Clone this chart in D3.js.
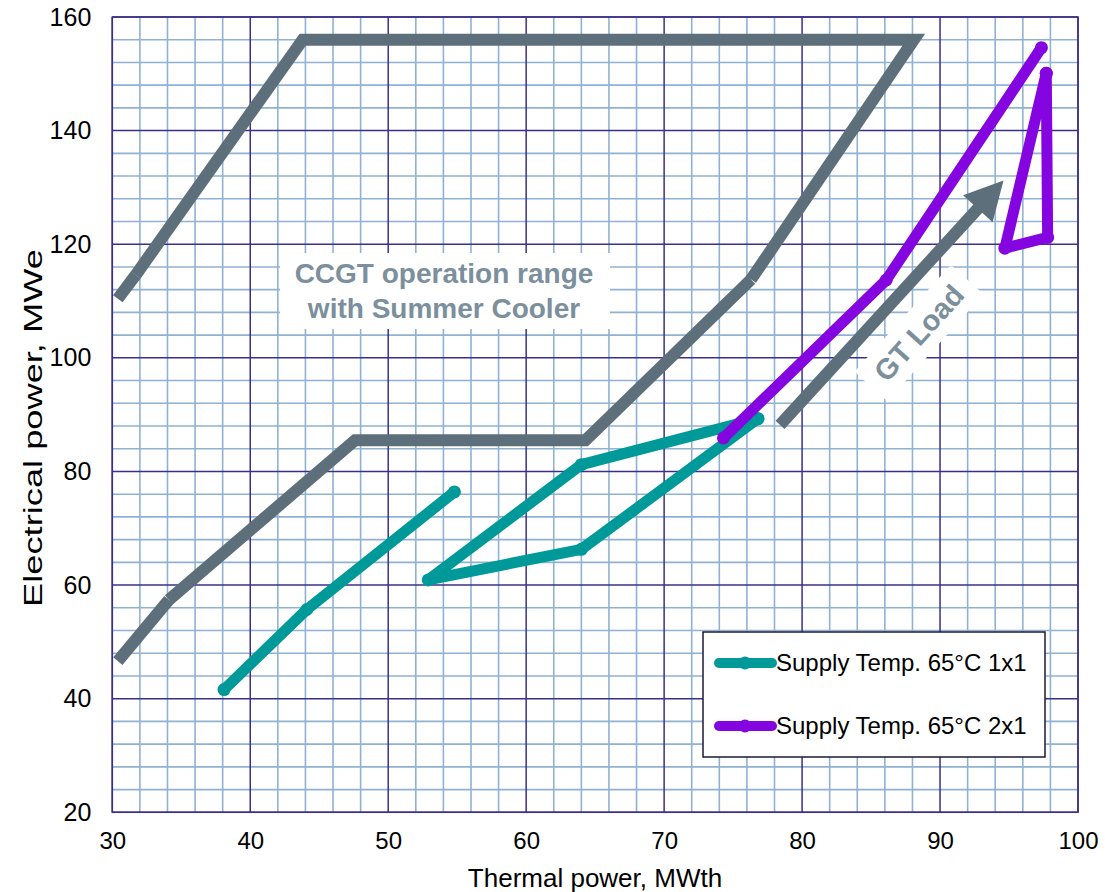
<!DOCTYPE html>
<html>
<head>
<meta charset="utf-8">
<script src="https://cdn.jsdelivr.net/npm/d3@7"></script>
<style>
  body { margin: 0; background: #fff; }
  text { font-family: "Liberation Sans", Arial, sans-serif; }
</style>
</head>
<body>
<div id="chart"></div>
<script>
// 数据
const xTicks = [30, 40, 50, 60, 70, 80, 90, 100];
const yTicks = [20, 40, 60, 80, 100, 120, 140, 160];

// CCGT operation range envelope (drawn in pieces)
const envelopePieces = [
  [[30.4, 110.4], [31.7, 114.6]],
  [[31.7, 114.6], [43.8, 156], [88.1, 156], [76.3, 113.8]],
  [[76.3, 113.8], [64.3, 85.5], [47.6, 85.5], [34.1, 57.4]],
  [[34.1, 57.4], [30.4, 46.6]]
];

// GT Load arrow
const arrowFrom = [78.4, 88.2];
const arrowTo = [94.6, 131.2];

const series1x1 = [
  [[38.1, 41.6], [44.1, 55.7], [54.8, 76.4]],
  [[76.8, 89.3], [64.0, 81.2], [52.9, 60.9], [64.0, 66.3], [76.8, 89.3]]
];
const series2x1 = [
  [[74.3, 85.9], [86.1, 113.7], [97.35, 154.6]],
  [[97.7, 150.1], [97.8, 121.2], [94.7, 119.3], [97.7, 150.1]]
];
const legendItems = [
  { name: "Supply Temp. 65°C 1x1", color: "#00999a" },
  { name: "Supply Temp. 65°C 2x1", color: "#8405e0" }
];

const WIDTH = 1105;
const HEIGHT = 892;
const GREY = "#5c6f7a";
const LABEL_GREY = "#7b8f9c";

const svg = d3.select("#chart").append("svg")
  .attr("width", WIDTH).attr("height", HEIGHT);

const x = d3.scaleLinear().domain([30, 100]).range([112.3, 1078]);
const y = d3.scaleLinear().domain([20, 160]).range([812.3, 17]);

// 网格
const grid = svg.append("g");
d3.range(30, 100.1, 2).forEach(v => {
  if (v % 10 === 0) return;
  grid.append("line").attr("x1", x(v)).attr("x2", x(v)).attr("y1", y(20)).attr("y2", y(160))
    .attr("stroke", "#90b2d2").attr("stroke-width", 1.6);
});
d3.range(20, 160.1, 4).forEach(v => {
  if (v % 20 === 0) return;
  grid.append("line").attr("y1", y(v)).attr("y2", y(v)).attr("x1", x(30)).attr("x2", x(100))
    .attr("stroke", "#90b2d2").attr("stroke-width", 1.6);
});
xTicks.forEach(v => {
  grid.append("line").attr("x1", x(v)).attr("x2", x(v)).attr("y1", y(20)).attr("y2", y(160))
    .attr("stroke", "#3d2f88").attr("stroke-width", 1.5);
});
yTicks.forEach(v => {
  grid.append("line").attr("y1", y(v)).attr("y2", y(v)).attr("x1", x(30)).attr("x2", x(100))
    .attr("stroke", "#3d2f88").attr("stroke-width", 1.5);
});

// 坐标轴标签
const xAxis = svg.append("g").attr("transform", `translate(0,${y(20)})`)
  .call(d3.axisBottom(x).tickValues(xTicks).tickSize(0).tickPadding(20));
xAxis.select(".domain").remove();
xAxis.attr("font-size", 24).attr("font-family", "Liberation Sans, Arial, sans-serif");
xAxis.selectAll("text").attr("fill", "#000");

const yAxis = svg.append("g").attr("transform", `translate(${x(30)},0)`)
  .call(d3.axisLeft(y).tickValues(yTicks).tickSize(0).tickPadding(21));
yAxis.select(".domain").remove();
yAxis.attr("font-size", 25).attr("font-family", "Liberation Sans, Arial, sans-serif");
yAxis.selectAll("text").attr("fill", "#000");

svg.append("text").attr("x", 595).attr("y", 887).attr("text-anchor", "middle")
  .attr("font-size", 26).text("Thermal power, MWth");
// y 轴标题（原图中沿长度方向被拉伸）
svg.append("text").attr("transform", "translate(42,428) rotate(-90) scale(1.45,1)").attr("text-anchor", "middle")
  .attr("font-size", 25).text("Electrical power, MWe");

const line = d3.line().x(d => x(d[0])).y(d => y(d[1]));

// 运行范围
envelopePieces.forEach(p => {
  svg.append("path").attr("d", line(p)).attr("fill", "none")
    .attr("stroke", GREY).attr("stroke-width", 12).attr("stroke-linejoin", "miter");
});

// GT Load 箭头
{
  const x1 = x(arrowFrom[0]), y1 = y(arrowFrom[1]);
  const x2 = x(arrowTo[0]), y2 = y(arrowTo[1]);
  const ang = Math.atan2(y2 - y1, x2 - x1);
  const headLen = 38, headW = 20;
  const bx = x2 - headLen * Math.cos(ang), by = y2 - headLen * Math.sin(ang);
  svg.append("line").attr("x1", x1).attr("y1", y1).attr("x2", bx + 2 * Math.cos(ang)).attr("y2", by + 2 * Math.sin(ang))
    .attr("stroke", GREY).attr("stroke-width", 12);
  const px = -Math.sin(ang), py = Math.cos(ang);
  svg.append("path")
    .attr("d", `M${x2},${y2}L${bx + px * headW},${by + py * headW}L${bx - px * headW},${by - py * headW}Z`)
    .attr("fill", GREY);
}

// GT Load 标注
{
  const g = svg.append("g").attr("transform", "translate(919,333) rotate(-48)");
  g.append("rect").attr("x", -72).attr("y", -22).attr("width", 144).attr("height", 44)
    .attr("rx", 4).attr("fill", "#fff");
  g.append("text").attr("text-anchor", "middle").attr("dy", 10)
    .attr("font-size", 29).attr("font-weight", "bold").attr("fill", LABEL_GREY).text("GT Load");
}

// CCGT 标注
svg.append("rect").attr("x", 280).attr("y", 253).attr("width", 330).attr("height", 76).attr("fill", "#fff");
svg.append("text").attr("x", 444).attr("y", 283).attr("text-anchor", "middle")
  .attr("font-size", 28).attr("font-weight", "bold").attr("fill", LABEL_GREY).text("CCGT operation range");
svg.append("text").attr("x", 444).attr("y", 318).attr("text-anchor", "middle")
  .attr("font-size", 28).attr("font-weight", "bold").attr("fill", LABEL_GREY).text("with Summer Cooler");

// 数据系列
function drawSeries(pieces, color) {
  pieces.forEach(p => {
    svg.append("path").attr("d", line(p)).attr("fill", "none")
      .attr("stroke", color).attr("stroke-width", 11)
      .attr("stroke-linejoin", "round").attr("stroke-linecap", "round");
    svg.selectAll(null).data(p).join("circle")
      .attr("cx", d => x(d[0])).attr("cy", d => y(d[1])).attr("r", 6.5).attr("fill", color);
  });
}
drawSeries(series1x1, legendItems[0].color);
drawSeries(series2x1, legendItems[1].color);

// 图例
const legend = svg.append("g");
legend.append("rect").attr("x", 703).attr("y", 632).attr("width", 342).attr("height", 125)
  .attr("fill", "#fff").attr("stroke", "#1c1a33").attr("stroke-width", 1.5);
legendItems.forEach((d, i) => {
  const ly = 663 + i * 63;
  legend.append("line").attr("x1", 719).attr("x2", 772).attr("y1", ly).attr("y2", ly)
    .attr("stroke", d.color).attr("stroke-width", 10).attr("stroke-linecap", "round");
  legend.append("circle").attr("cx", 745).attr("cy", ly).attr("r", 6.5).attr("fill", d.color);
  legend.append("text").attr("x", 776).attr("y", ly + 8).attr("font-size", 24).text(d.name);
});

// 外框
svg.append("rect").attr("x", x(30)).attr("y", y(160)).attr("width", x(100) - x(30)).attr("height", y(20) - y(160))
  .attr("fill", "none").attr("stroke", "#3d2f88").attr("stroke-width", 1.5);
</script>
</body>
</html>
